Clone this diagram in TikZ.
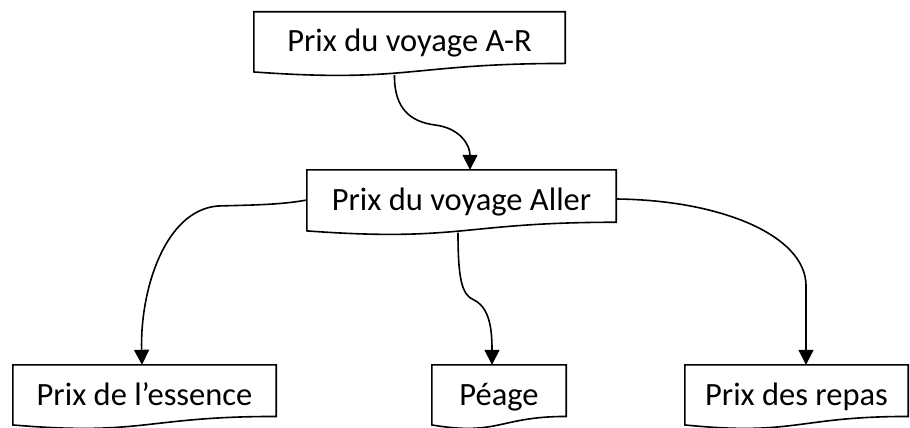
\documentclass[tikz,border=0pt]{standalone}
\usepackage{fontspec}
\setmainfont{Carlito}
\usetikzlibrary{arrows.meta,calc}
\tikzset{
  docbox/.style={rectangle, draw=none, inner sep=0pt, minimum height=64pt,
    text height=24pt, text depth=8pt, font=\fontsize{32.5}{37}\selectfont},
  outline/.style={draw=black, line width=1.6pt, line join=miter},
  conn/.style={draw=black, line width=1.6pt, -{Triangle[width=15pt,length=15pt]}}
}
\newcommand\docoutline[1]{%
  \draw[outline] (#1.north west) -- (#1.north east)
    -- ($(#1.north east)!0.802!(#1.south east)$)
    .. controls ($(#1.north)!0.802!(#1.south)$) and ($(#1.north)!1.108!(#1.south)$)
    .. ($(#1.north west)!0.934!(#1.south west)$) -- cycle;}
\begin{document}
\begin{tikzpicture}[x=1pt,y=-1pt]
\useasboundingbox (0,0) rectangle (910,428);
\node[docbox, minimum width=311pt] (ar) at (409.5,44) {Prix du voyage A-R};
\node[docbox, minimum width=309pt, minimum height=65pt] (al) at (461.5,202.5) {Prix du voyage Aller};
\node[docbox, minimum width=263pt] (es) at (144.5,397) {Prix de l’essence};
\node[docbox, minimum width=134pt] (pe) at (499,397) {Péage};
\node[docbox, minimum width=223pt] (re) at (796.5,397) {Prix des repas};
\docoutline{ar}
\docoutline{al}
\docoutline{es}
\docoutline{pe}
\docoutline{re}
% connectors
\draw[conn] ([xshift=-15pt,yshift=1pt]ar.south) .. controls (394,110) and (412,122) .. (435,125)
  .. controls (460,128) and (470,145) .. ([xshift=8.5pt]al.north);
\draw[conn] ([yshift=2.5pt]al.west) .. controls (280,205) and (250,205) .. (218,206)
  .. controls (165,210) and (140,290) .. ([xshift=-2.5pt]es.north);
\draw[conn] ([xshift=-3.5pt,yshift=2.5pt]al.south) .. controls (458,280) and (462,295) .. (474,300)
  .. controls (490,308) and (492,330) .. ([xshift=-7pt]pe.north);
\draw[conn] ([yshift=3.5pt]al.east) .. controls (720,200) and (805,235) .. (806,285)
  -- ([xshift=9.5pt]re.north);
\end{tikzpicture}
\end{document}
